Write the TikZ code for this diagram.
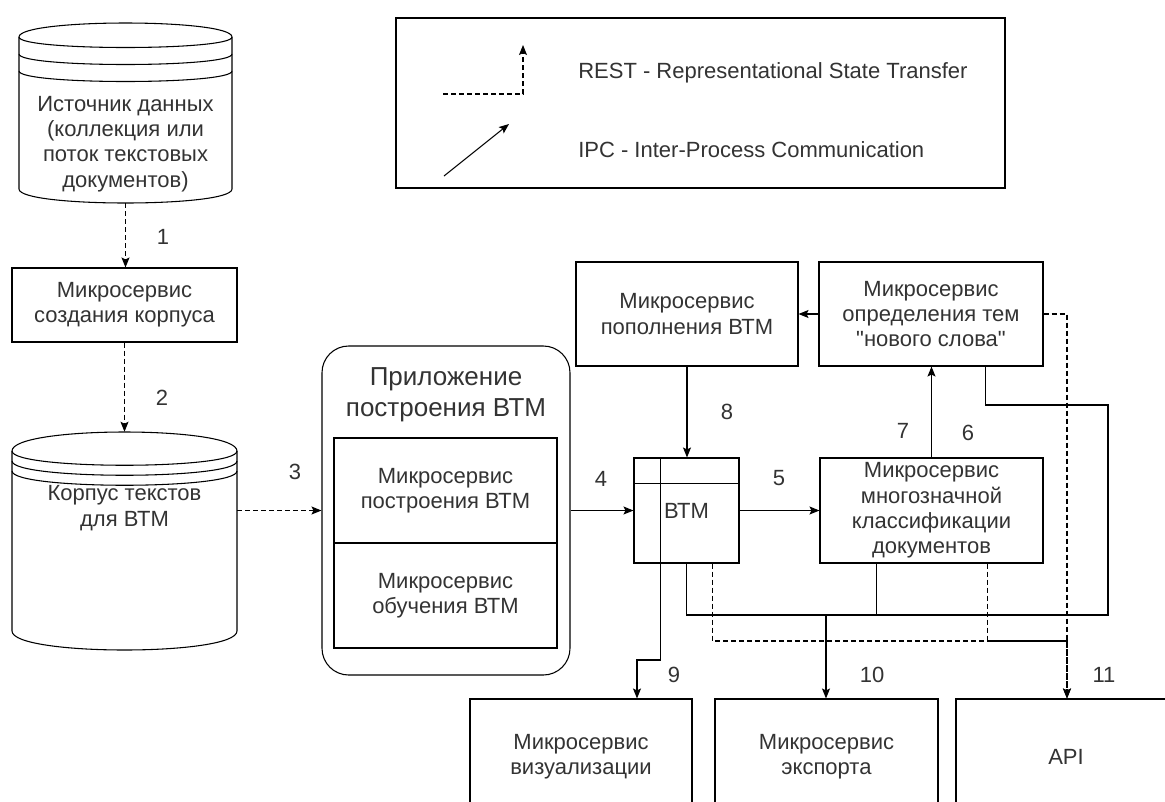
\documentclass[tikz,border=0pt]{standalone}
\usepackage{fontspec}
\setmainfont{Liberation Sans}
\newfontfamily\plainsans{Liberation Sans}
\usetikzlibrary{arrows.meta,calc}
\pgfdeclarelayer{bg}
\pgfsetlayers{bg,main}
\def\pxu{0.75pt}
\definecolor{ink}{HTML}{333333}
% left, top, right, bottom, ellipse depth, arc spacing
\newcommand{\dstore}[6]{%
  \draw[line, fill=white] (#1,#2+#5) .. controls (#1,#2-#5/3) and (#3,#2-#5/3) .. (#3,#2+#5) -- (#3,#4-#5) .. controls (#3,#4+#5/3) and (#1,#4+#5/3) .. (#1,#4-#5) -- cycle;
  \foreach \k in {0,1,2}{\draw[line] (#1,#2+#5+\k*#6) .. controls (#1,#2+2*#5+\k*#6) and (#3,#2+2*#5+\k*#6) .. (#3,#2+#5+\k*#6);}
}
\begin{document}
\begin{tikzpicture}[x=0.75pt,y=-0.75pt,
  line/.style={draw=black, line width=0.8pt},
  conn/.style={line, -{Stealth[length=7.5pt,width=6pt,inset=1.5pt]}},
  restline/.style={line, dash pattern=on 3.75pt off 2.25pt},
  rest/.style={conn, dash pattern=on 3.75pt off 2.25pt},
  ipc/.style={conn},
  txt/.style={text=ink, font=\fontsize{16.5}{19}\selectfont, align=center, inner sep=0pt},
  box/.style={txt, line, fill=white, rectangle},
  lbl/.style={txt},
]
\useasboundingbox (0,0) rectangle (1165,801);
\fill[white] (0,0) rectangle (1165,801);
\clip (0,0) rectangle (1165,801);

% legend
\node[box, minimum width=609*\pxu, minimum height=170*\pxu] (legend) at (700.5,103) {};
\coordinate (lr1) at (443,94);
\coordinate (lr2) at (523,45);
\coordinate (li1) at (444,176);
\coordinate (li2) at (509,124);
\draw[rest] (lr1) -| (lr2);
\draw[ipc] (li1) -- (li2);
\node[txt, anchor=west] (lrest) at (578,73) {REST - Representational State Transfer};
\node[txt, anchor=west] (lipc) at (578,150) {IPC - Inter-Process Communication};

% data source cylinder
\dstore{19}{23}{232}{203}{14}{17}
\node[minimum width=213*\pxu, minimum height=180*\pxu, inner sep=0pt] (src) at (125.5,113) {};
\node[txt] (srctext) at (125.5,144) {Источник данных\\(коллекция или\\поток текстовых\\документов)};

% corpus creation
\node[box, minimum width=225*\pxu, minimum height=74*\pxu] (corp) at (124.5,305) {Микросервис\\создания корпуса};

% corpus cylinder
\dstore{12}{432}{237}{650}{19}{10}
\node[minimum width=225*\pxu, minimum height=218*\pxu, inner sep=0pt] (corpus) at (124.5,541) {};
\node[txt] (corpustext) at (124.5,508) {Корпус текстов\\для ВТМ};

% application
\node[line, fill=white, rounded corners=20pt, minimum width=248*\pxu, minimum height=329*\pxu] (app) at (446,510.5) {};
\node[txt, font=\fontsize{19.5}{23.3}\selectfont] (apptitle) at (446,395) {Приложение\\построения ВТМ};
\node[box, minimum width=223*\pxu, minimum height=105*\pxu] (build) at (445.5,490.5) {Микросервис\\построения ВТМ};
\node[box, minimum width=223*\pxu, minimum height=105*\pxu] (train) at (445.5,595.5) {Микросервис\\обучения ВТМ};

% BTM internal storage
\node[box, minimum width=105*\pxu, minimum height=105*\pxu] (btm) at (686.5,510.5) {ВТМ};
\draw[line] ($(btm.north west)+(27,0)$) -- ($(btm.south west)+(27,0)$);
\draw[line] ($(btm.north west)+(0,26)$) -- ($(btm.north east)+(0,26)$);

\node[box, minimum width=222*\pxu, minimum height=104*\pxu] (popoln) at (687,314) {Микросервис\\пополнения ВТМ};
\node[box, minimum width=224*\pxu, minimum height=104*\pxu] (opred) at (931,314) {Микросервис\\определения тем\\{\plainsans"}нового слова{\plainsans"}};
\node[box, minimum width=223*\pxu, minimum height=105*\pxu] (klass) at (931.5,510.5) {Микросервис\\многозначной\\классификации\\документов};

\node[box, minimum width=222*\pxu, minimum height=116*\pxu] (vis) at (581,757) {Микросервис\\визуализации};
\node[box, minimum width=223*\pxu, minimum height=116*\pxu] (export) at (826.5,757) {Микросервис\\экспорта};
\node[box, minimum width=220*\pxu, minimum height=116*\pxu] (api) at (1066,757) {API};

% connector hidden behind the boxes
\coordinate (c7a) at (268,237);
\begin{pgfonlayer}{bg}
\draw[rest] ($(corpus.north east)+(0,46)$) -| (c7a) -| ($(klass.north west)+(57,0)$);
\end{pgfonlayer}

% connectors
\draw[rest] (src.south) -- (src.south |- corp.north);
\draw[rest] (corp.south) -- (corp.south |- corpus.north);
\draw[rest] (corpus.east |- app.west) -- (app.west);
\draw[ipc] (app.east) -- (btm.west);
\draw[ipc] (btm.east) -- (klass.west);
\draw[ipc] (popoln.south) -- (popoln.south |- btm.north);
\draw[ipc] (opred.west) -- (popoln.east);
\draw[ipc] (klass.north) -- (klass.north |- opred.south);

\coordinate (v9) at (637,660);
\draw[ipc] ($(btm.south west)+(27,0)$) |- (v9) -- (v9 |- vis.north);

\coordinate (j10) at (826,615);
\coordinate (k10) at (1108,405);
\draw[ipc] (btm.south) |- (j10) -- (j10 |- export.north);
\draw[line] ($(klass.south west)+(57,0)$) |- (j10);
\draw[line] ($(opred.south west)+(167,0)$) |- (k10) |- (j10);

\coordinate (j11) at (1067,641);
\draw[rest] ($(btm.south west)+(79,0)$) |- (j11) -- (j11 |- api.north);
\draw[restline] ($(klass.south west)+(168,0)$) |- (j11);
\draw[rest] (opred.east) -| (j11 |- api.north);

% labels
\node[lbl] (n1) at (163,237) {1};
\node[lbl] (n2) at (162,398) {2};
\node[lbl] (n3) at (295,472) {3};
\node[lbl] (n4) at (601,479) {4};
\node[lbl] (n5) at (779,478) {5};
\node[lbl] (n6) at (968,433) {6};
\node[lbl] (n7) at (903,431) {7};
\node[lbl] (n8) at (727,412) {8};
\node[lbl] (n9) at (674,675) {9};
\node[lbl] (n10) at (872,675) {10};
\node[lbl] (n11) at (1104,675) {11};
\end{tikzpicture}
\end{document}
